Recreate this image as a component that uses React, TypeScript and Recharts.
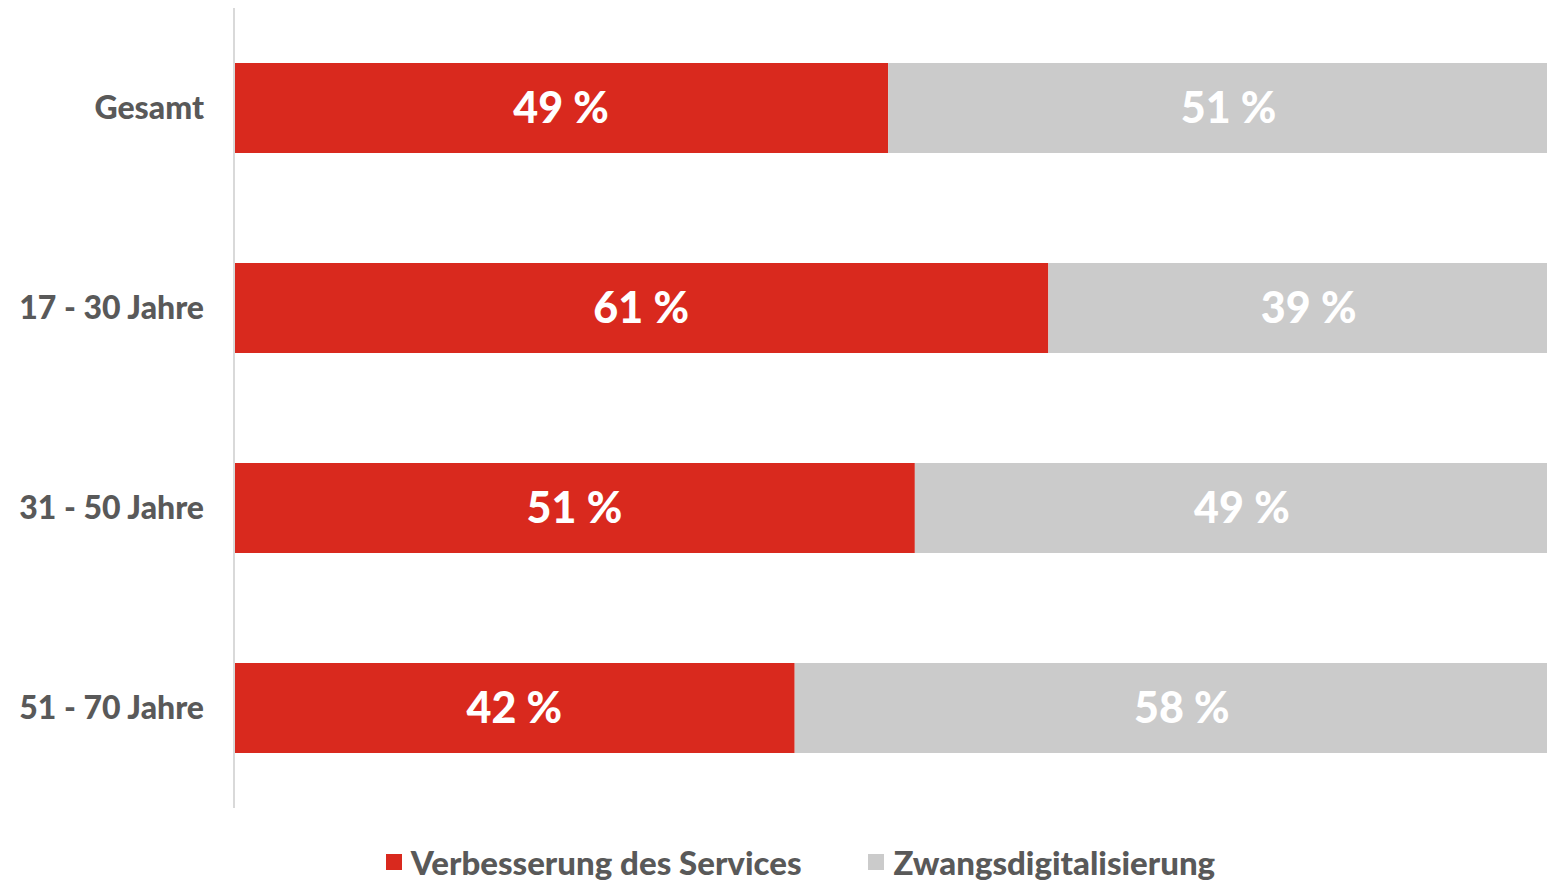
import React from 'react';
import { BarChart, Bar, XAxis, YAxis, Legend, LabelList } from 'recharts';

const categories = ['Gesamt', '17 - 30 Jahre', '31 - 50 Jahre', '51 - 70 Jahre'];
const verbesserung = [49, 61, 51, 42];
const zwang = [51, 39, 49, 58];

const seriesNames = ['Verbesserung des Services', 'Zwangsdigitalisierung'];
const RED = '#d9291e';
const GREY = '#cbcbcb';
const TEXT = '#595959';
const FONT = 'Lato, "Open Sans", sans-serif';

const data = categories.map((name, i) => ({ name, a: verbesserung[i], b: zwang[i] }));

// the original is cropped on the right, so the chart is wider than the frame
const renderLegend = () => (
  <div style={{ display: 'flex', justifyContent: 'center', gap: 67, paddingLeft: 32, fontFamily: FONT, fontWeight: 900, fontSize: 33, color: TEXT, height: 38, lineHeight: '38px' }}>
    {[RED, GREY].map((c, i) => (
      <div key={i} style={{ display: 'flex', alignItems: 'center' }}>
        <span style={{ display: 'inline-block', width: 16, height: 16, background: c, marginRight: 9 }} />
        <span>{seriesNames[i]}</span>
      </div>
    ))}
  </div>
);

const pct = (v: any) => `${v} %`;

export default function App() {
  return (
    <div style={{ position: 'absolute', left: 0, top: 0, width: 1547, height: 881, overflow: 'hidden', background: '#fff' }}>
      <BarChart
        width={1569}
        height={881}
        data={data}
        layout="vertical"
        margin={{ top: 8, right: 0, bottom: 35, left: 0 }}
        barCategoryGap={55}
      >
        <XAxis type="number" domain={[0, 100]} hide />
        <YAxis
          type="category"
          dataKey="name"
          width={234}
          axisLine={{ stroke: '#d9d9d9', strokeWidth: 2 }}
          tickLine={false}
          tickMargin={24}
          tick={{ fill: TEXT, fontSize: 32, fontWeight: 900, fontFamily: FONT }}
        />
        <Legend verticalAlign="bottom" align="center" content={renderLegend} wrapperStyle={{ bottom: 0 }} />
        <Bar dataKey="a" stackId="s" fill={RED} isAnimationActive={false}>
          <LabelList dataKey="a" position="center" formatter={pct} fill="#fff" fontSize={43} fontWeight={900} fontFamily={FONT} />
        </Bar>
        <Bar dataKey="b" stackId="s" fill={GREY} isAnimationActive={false}>
          <LabelList dataKey="b" position="center" formatter={pct} fill="#fff" fontSize={43} fontWeight={900} fontFamily={FONT} />
        </Bar>
      </BarChart>
    </div>
  );
}
